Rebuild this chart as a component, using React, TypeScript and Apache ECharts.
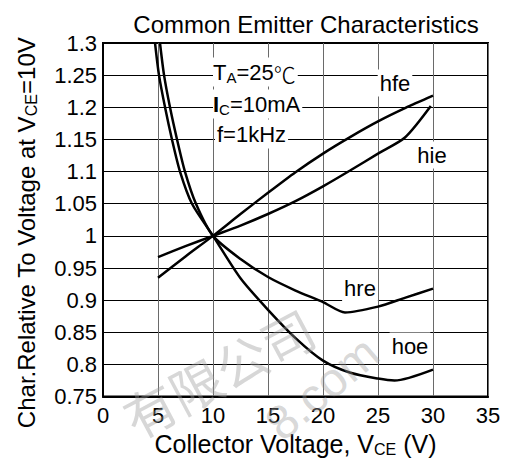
import React, { useEffect, useRef } from 'react';
import * as echarts from 'echarts';

const FONT = '"Liberation Sans", Arial, Helvetica, sans-serif';

// Tick ranges
const X_MIN = 0, X_MAX = 35, X_STEP = 5;
const Y_MIN = 0.75, Y_MAX = 1.3, Y_STEP = 0.05;

// Curves: [VCE (V), relative value]
const hfe: [number, number][] = [
  [5, 0.935], [7.5, 0.968], [10, 1.0], [12.5, 1.034], [15, 1.067], [17.5, 1.099],
  [20, 1.128], [22.5, 1.154], [25, 1.178], [27.5, 1.199], [30, 1.218],
];
const hie: [number, number][] = [
  [5, 0.967], [7.5, 0.984], [10, 1.0], [12.5, 1.016], [15, 1.034], [17.5, 1.054],
  [20, 1.077], [22.5, 1.102], [25, 1.128], [27.45, 1.153], [29.8, 1.202],
];
const hre: [number, number][] = [
  [5.18, 1.3], [5.55, 1.25], [6.09, 1.2], [6.73, 1.15], [7.45, 1.1], [8.45, 1.05],
  [10, 1.0], [12.5, 0.964], [15, 0.936], [17.5, 0.915], [20, 0.897], [22, 0.881],
  [25, 0.89], [27.5, 0.904], [30, 0.918],
];
const hoe: [number, number][] = [
  [4.73, 1.3], [5.09, 1.25], [5.64, 1.2], [6.27, 1.15], [7.0, 1.1], [8.09, 1.05],
  [10, 1.0], [12.5, 0.934], [15, 0.885], [17.5, 0.841], [20, 0.806], [22.5, 0.787],
  [25, 0.778], [26.5, 0.775], [30, 0.792],
];

const seriesNames = ['hfe', 'hie', 'hre', 'hoe'];
const seriesData = [hfe, hie, hre, hoe];

const titleText = 'Common Emitter Characteristics';
const conditions = ['T_A=25℃', 'I_C=10mA', 'f=1kHz'];
const watermark = ['有限公司', '8.com'];

export default function App() {
  const ref = useRef<HTMLDivElement>(null);
  useEffect(() => {
    const chart = echarts.init(ref.current as HTMLDivElement, null, { renderer: 'svg' });
    const sub = { fontSize: 15, lineHeight: 15, verticalAlign: 'bottom', fontFamily: FONT, color: '#000' };
    const lab = (text: string, x: number, y: number) => ({
      type: 'text', x, y, z: 50,
      style: {
        text, font: `22px ${FONT}`, fill: '#000', align: 'center', verticalAlign: 'middle',
        backgroundColor: '#fff', padding: [3, 2, 2, 2],
      },
    });
    chart.setOption({
      animation: false,
      backgroundColor: '#fff',
      title: {
        text: titleText, left: 301, top: 7, textAlign: 'center',
        textStyle: { fontFamily: FONT, fontSize: 24, fontWeight: 'normal', color: '#000' },
      },
      grid: { left: 103, right: 21, top: 43, bottom: 63, show: true, borderColor: '#000', borderWidth: 2, containLabel: false },
      xAxis: {
        type: 'value', min: X_MIN, max: X_MAX, interval: X_STEP,
        axisLine: { show: true, lineStyle: { color: '#000', width: 2 } },
        axisTick: { show: false },
        splitLine: { show: true, lineStyle: { color: '#6a6a6a', width: 1 } },
        axisLabel: { color: '#000', fontSize: 22, fontFamily: FONT, margin: 8 },
        name: '{n|Collector Voltage, V}{s|CE}{n| (V)}',
        nameLocation: 'middle', nameGap: 30,
        nameTextStyle: {
          rich: { n: { fontSize: 25, lineHeight: 26, fontFamily: FONT, color: '#000' }, s: { ...sub, fontSize: 16, lineHeight: 16 } },
        },
      },
      yAxis: {
        type: 'value', min: Y_MIN, max: Y_MAX, interval: Y_STEP,
        axisLine: { show: true, lineStyle: { color: '#000', width: 2 } },
        axisTick: { show: false },
        splitLine: { show: true, lineStyle: { color: '#000', width: 1 } },
        axisLabel: {
          color: '#000', fontSize: 22, fontFamily: FONT, margin: 6,
          formatter: (v: number) => String(parseFloat(v.toFixed(2))),
        },
        name: '{n|Char.Relative To Voltage at V}{s|CE}{n|=10V}',
        nameLocation: 'middle', nameGap: 64,
        nameTextStyle: {
          padding: [0, 26, 0, 0],
          rich: { n: { fontSize: 24, lineHeight: 26, fontFamily: FONT, color: '#000' }, s: { ...sub, fontSize: 16, lineHeight: 16 } },
        },
      },
      series: seriesNames.map((name, i) => ({
        name, type: 'line', data: seriesData[i], symbol: 'none', smooth: 0.25,
        lineStyle: { color: '#000', width: 2.5 }, z: 3,
      })),
      graphic: [
        {
          type: 'text', x: 213, y: 72, z: 50,
          style: {
            text: '{a|T}{s|A}{a|=25}{c|℃}', align: 'left', verticalAlign: 'middle',
            backgroundColor: '#fff', padding: [3, 2, 2, 0],
            rich: {
              a: { fontSize: 22, lineHeight: 24, fontFamily: FONT, color: '#000' },
              s: { ...sub },
              c: { fontSize: 22, lineHeight: 24, fontFamily: '"Noto Sans CJK SC"', fontWeight: 300, color: '#000' },
            },
          },
        },
        {
          type: 'text', x: 213, y: 104, z: 50,
          style: {
            text: '{b|I}{s|C}{a|=10mA}', align: 'left', verticalAlign: 'middle',
            backgroundColor: '#fff', padding: [3, 2, 2, 0],
            rich: {
              a: { fontSize: 22, lineHeight: 24, fontFamily: FONT, color: '#000' },
              b: { fontSize: 22, lineHeight: 24, fontFamily: FONT, fontWeight: 'bold', color: '#000' },
              s: { ...sub },
            },
          },
        },
        {
          type: 'text', x: 215, y: 134, z: 50,
          style: {
            text: conditions[2], font: `22px ${FONT}`, fill: '#000', align: 'left', verticalAlign: 'middle',
            backgroundColor: '#fff', padding: [3, 2, 4, 2],
          },
        },
        lab('hfe', 395, 83),
        lab('hie', 432, 155),
        lab('hre', 360, 288),
        lab('hoe', 410, 346),
        {
          type: 'text', x: 218, y: 372, rotation: 0.49, z: 100,
          style: {
            text: watermark[0], font: `52px "Noto Sans CJK SC"`, fill: '#9a9a9a', opacity: 0.4,
            align: 'center', verticalAlign: 'middle',
          },
        },
        {
          type: 'text', x: 322, y: 388, rotation: 0.7, z: 100,
          style: {
            text: watermark[1], font: `48px ${FONT}`, fill: '#9a9a9a', opacity: 0.4,
            align: 'center', verticalAlign: 'middle',
          },
        },
      ],
    });
    return () => chart.dispose();
  }, []);
  return (
    <div
      ref={ref}
      style={{ position: 'fixed', left: 0, top: 0, width: 509, height: 462, background: '#fff' }}
    />
  );
}
